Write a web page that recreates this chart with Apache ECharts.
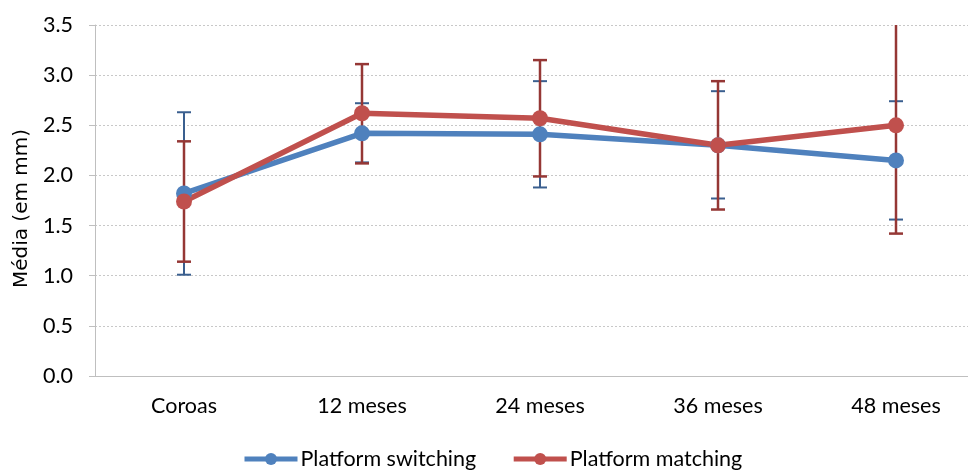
<!DOCTYPE html>
<html>
<head>
<meta charset="utf-8">
<script src="https://cdn.jsdelivr.net/npm/echarts@6/dist/echarts.min.js"></script>
<style>html,body{margin:0;padding:0;background:#fff}#c{width:968px;height:471px}</style>
</head>
<body>
<div id="c"></div>
<script>
var categories = ['Coroas', '12 meses', '24 meses', '36 meses', '48 meses'];
var switchingMean = [1.82, 2.42, 2.41, 2.30, 2.15];
var switchingLow  = [1.01, 2.13, 1.88, 1.77, 1.56];
var switchingHigh = [2.63, 2.72, 2.94, 2.84, 2.74];
var matchingMean  = [1.74, 2.62, 2.57, 2.30, 2.50];
var matchingLow   = [1.14, 2.12, 1.99, 1.66, 1.42];
var matchingHigh  = [2.34, 3.11, 3.15, 2.94, 3.58];
var yTicks = ['0.0','0.5','1.0','1.5','2.0','2.5','3.0','3.5'];

var FONT = 'Lato';
var FS = 21.5;
function errData(low, high) {
  return low.map(function (l, i) { return [i, l, high[i]]; });
}
function errSeries(name, low, high, color, width) {
  return {
    type: 'custom',
    name: name,
    z: 1,
    clip: true,
    silent: true,
    data: errData(low, high),
    renderItem: function (params, api) {
      var lo = api.coord([api.value(0), api.value(1)]);
      var hi = api.coord([api.value(0), api.value(2)]);
      var hw = 7;
      var style = { stroke: color, lineWidth: width };
      return {
        type: 'group',
        children: [
          { type: 'line', shape: { x1: lo[0], y1: lo[1], x2: hi[0], y2: hi[1] }, style: style },
          { type: 'line', shape: { x1: lo[0] - hw, y1: lo[1], x2: lo[0] + hw, y2: lo[1] }, style: style },
          { type: 'line', shape: { x1: hi[0] - hw, y1: hi[1], x2: hi[0] + hw, y2: hi[1] }, style: style }
        ]
      };
    }
  };
}

var chart = echarts.init(document.getElementById('c'));
chart.setOption({
  animation: false,
  backgroundColor: '#fff',
  grid: { left: 95, width: 890, top: 25, height: 351, outerBoundsMode: 'none', containLabel: false },
  legend: {
    data: ['Platform switching', 'Platform matching'],
    left: 242,
    top: 448,
    padding: 0,
    itemWidth: 53,
    itemHeight: 15,
    itemGap: 35,
    lineStyle: { width: 5 },
    textStyle: { fontFamily: FONT, fontSize: FS, color: '#000', padding: [0, 0, 0, -2] }
  },
  xAxis: {
    type: 'category',
    data: categories,
    axisLine: { lineStyle: { color: '#BFBFBF', width: 1 } },
    axisTick: { show: false },
    axisLabel: { fontFamily: FONT, fontSize: FS, color: '#000', margin: 19 },
    splitLine: { show: false }
  },
  yAxis: {
    type: 'value',
    min: 0, max: 3.5, interval: 0.5,
    name: 'Média (em mm)',
    nameLocation: 'middle',
    nameGap: 59,
    nameTextStyle: { fontFamily: 'DejaVu Sans', fontSize: 20, color: '#000', padding: [0, 16, 0, 0] },
    axisLine: { show: true, lineStyle: { color: '#BFBFBF', width: 1 } },
    axisTick: { show: true, length: 6, lineStyle: { color: '#BFBFBF' } },
    axisLabel: {
      fontFamily: FONT, fontSize: FS, color: '#000', margin: 22,
      formatter: function (v) { return yTicks[Math.round(v / 0.5)]; }
    },
    splitLine: { show: true, lineStyle: { color: '#C8C8C8', type: [2, 2], width: 1 } }
  },
  series: [
    errSeries('err-switching', switchingLow, switchingHigh, '#3A5F8F', 2),
    errSeries('err-matching', matchingLow, matchingHigh, '#953735', 2.5),
    {
      name: 'Platform switching', type: 'line', z: 3,
      data: switchingMean,
      symbol: 'circle', symbolSize: 16,
      itemStyle: { color: '#4F81BD' },
      lineStyle: { color: '#4F81BD', width: 5.5 }
    },
    {
      name: 'Platform matching', type: 'line', z: 3,
      data: matchingMean,
      symbol: 'circle', symbolSize: 16,
      itemStyle: { color: '#C0504D' },
      lineStyle: { color: '#C0504D', width: 5.5 }
    }
  ]
});
</script>
</body>
</html>
